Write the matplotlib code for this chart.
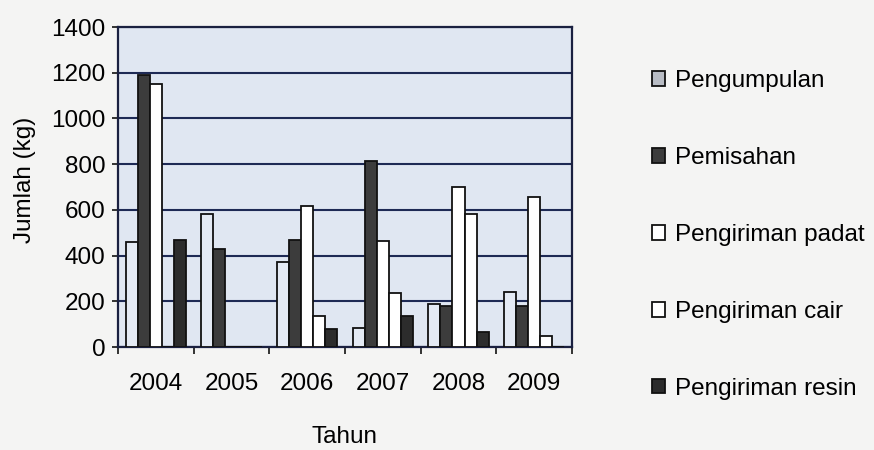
import matplotlib
matplotlib.use("Agg")
import matplotlib.pyplot as plt
import numpy as np
from matplotlib.patches import Patch

plt.rcParams['font.family'] = ['Liberation Sans', 'DejaVu Sans']

years = ['2004', '2005', '2006', '2007', '2008', '2009']
series_names = ['Pengumpulan', 'Pemisahan', 'Pengiriman padat', 'Pengiriman cair', 'Pengiriman resin']
pengumpulan = [460, 580, 370, 85, 190, 240]
pemisahan = [1190, 430, 470, 815, 180, 180]
pengiriman_padat = [1150, 0, 615, 465, 700, 655]
pengiriman_cair = [0, 0, 135, 235, 580, 50]
pengiriman_resin = [470, 0, 80, 135, 65, 0]
yticks = [0, 200, 400, 600, 800, 1000, 1200, 1400]

series = [pengumpulan, pemisahan, pengiriman_padat, pengiriman_cair, pengiriman_resin]
faces = ['#e4eaf4', '#3c3c3c', '#ffffff', '#ffffff', '#2c2c2c']
legend_faces = ['#b8bcc4', '#3c3c3c', '#ffffff', '#ffffff', '#2c2c2c']

fig = plt.figure(figsize=(8.74, 4.5), dpi=100)
fig.patch.set_facecolor('#f4f4f3')
ax = fig.add_axes([118/874, 1-347/450, (572-118)/874, (347-27)/450])
ax.set_facecolor('#e0e7f2')

x = np.arange(len(years))
w = 0.16
for i, vals in enumerate(series):
    off = (i - 2) * w
    ax.bar(x + off, vals, width=w, color=faces[i], edgecolor='#111111',
           linewidth=1.3, zorder=3)

ax.set_xlim(-0.5, len(years) - 0.5)
ax.set_ylim(0, 1400)
ax.set_yticks(yticks)
ax.set_yticklabels([str(v) for v in yticks], fontsize=17.5)
ax.yaxis.grid(True, color='#1e2a55', linewidth=1.5, zorder=1)
ax.set_axisbelow(True)

ax.set_xticks(np.arange(-0.5, len(years), 1.0))
ax.set_xticklabels([])
ax.set_xticks(x, minor=True)
ax.set_xticklabels(years, minor=True, fontsize=17.5)
ax.tick_params(axis='x', which='major', direction='out', length=5, width=1.2, color='#111111')
ax.tick_params(axis='x', which='minor', length=0, pad=19)
ax.tick_params(axis='y', direction='out', length=4, width=1.2, pad=5, color='#111111')

for s in ax.spines.values():
    s.set_color('#1a2040')
    s.set_linewidth(1.6)

fig.text(25/874, 1-180/450, 'Jumlah (kg)', rotation=90, ha='center', va='center', fontsize=17.5)
fig.text(344/874, 1-437/450, 'Tahun', ha='center', va='center', fontsize=17.5)

handles = [Patch(facecolor=legend_faces[i], edgecolor='#111111', linewidth=1.3) for i in range(5)]
leg = fig.legend(handles, series_names, loc='upper left', bbox_to_anchor=(652/874, 1-70/450),
                 frameon=False, fontsize=17.5, labelspacing=2.26, handlelength=0.55,
                 handleheight=0.55, handletextpad=0.4, borderaxespad=0, borderpad=0)

fig.savefig('out.png', dpi=100, facecolor=fig.get_facecolor())
